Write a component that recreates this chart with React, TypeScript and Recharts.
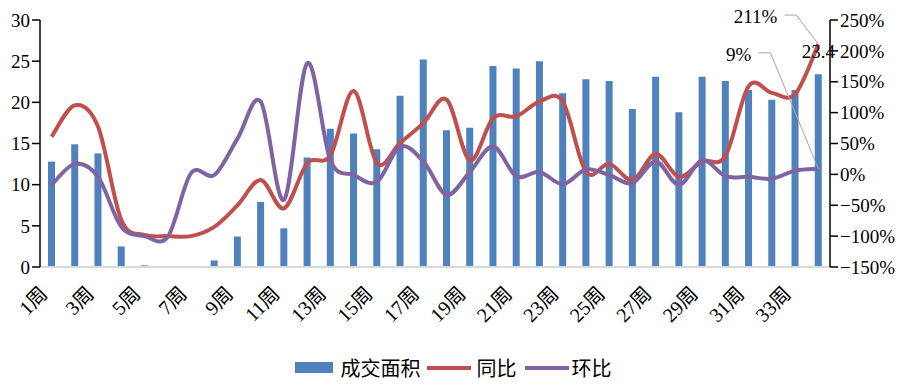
import { ComposedChart, Bar, Line, XAxis, YAxis, Legend, LabelList } from 'recharts';

const weeks = Array.from({ length: 34 }, (_, i) => `${i + 1}周`);

// 成交面积 (left axis)
const area = [
  12.8, 14.9, 13.8, 2.5, 0.2, 0, 0, 0.8, 3.7, 7.9,
  4.7, 13.3, 16.8, 16.2, 14.3, 20.8, 25.2, 16.6, 16.9, 24.4,
  24.1, 25.0, 21.1, 22.8, 22.6, 19.2, 23.1, 18.8, 23.1, 22.6,
  21.5, 20.3, 21.5, 23.4,
];

// 同比 (%)
const yoy = [
  61, 112, 77, -74, -98, -100, -100, -85, -50, -9,
  -55, 18, 31, 135, 18, 51, 83, 121, 23, 91,
  94, 118, 118, 4, 17, -9, 33, -4, 21, 30,
  143, 132, 130, 211,
];

// 环比 (%)
const mom = [
  -17, 17, -4, -85, -100, -101, 2, -1, 58, 118,
  -41, 180, 23, -1, -12, 45, 21, -33, 4, 45,
  -3, 4, -16, 8, -1, -14, 21, -17, 23, -3,
  -4, -7, 6, 9,
];

const leftTicks = [0, 5, 10, 15, 20, 25, 30];
const rightTicks = [-150, -100, -50, 0, 50, 100, 150, 200, 250];

const data = weeks.map((w, i) => ({ week: w, area: area[i], yoy: yoy[i], mom: mom[i] }));

const FONT = "'Liberation Serif', 'Noto Sans CJK SC', serif";
const BLUE = '#4f81bd';
const RED = '#c0504d';
const PURPLE = '#8064a2';
const LAST = weeks.length - 1;

// Excel-like smoothed line (Catmull-Rom)
function smoothCurve(context: any) {
  let pts: number[][] = [];
  return {
    areaStart() {},
    areaEnd() {},
    lineStart() {
      pts = [];
    },
    point(x: number, y: number) {
      pts.push([+x, +y]);
    },
    lineEnd() {
      if (!pts.length) return;
      context.moveTo(pts[0][0], pts[0][1]);
      for (let i = 0; i < pts.length - 1; i++) {
        const p0 = pts[i - 1] || pts[i];
        const p1 = pts[i];
        const p2 = pts[i + 1];
        const p3 = pts[i + 2] || p2;
        context.bezierCurveTo(
          p1[0] + (p2[0] - p0[0]) / 6,
          p1[1] + (p2[1] - p0[1]) / 6,
          p2[0] - (p3[0] - p1[0]) / 6,
          p2[1] - (p3[1] - p1[1]) / 6,
          p2[0],
          p2[1]
        );
      }
    },
  };
}

const XTick = ({ x, y, payload }: any) => (
  <text
    x={x - 3}
    y={y + 20}
    transform={`rotate(-45, ${x - 3}, ${y + 20})`}
    textAnchor="end"
    fontSize={20}
    fontFamily={FONT}
    fill="#000"
  >
    {payload.value}
  </text>
);

const fmtPct = (v: number) => `${v}%`.replace('-', '−');

// data label with a grey leader line, only on the last point
const callout = (dx: number, dy: number, text: string) => (props: any) => {
  const { x, y, index } = props;
  if (index !== LAST) return null;
  const lx = x + dx;
  const ly = y + dy;
  return (
    <g>
      <polyline
        points={`${lx + 7},${ly - 2} ${lx + 19},${ly - 2} ${x},${y}`}
        fill="none"
        stroke="#a6a6a6"
        strokeWidth={1}
      />
      <text x={lx} y={ly + 6} textAnchor="end" fontSize={19} fontFamily={FONT} fill="#000">
        {text}
      </text>
    </g>
  );
};

const BarTopLabel = (props: any) => {
  const { x, y, width, value, index } = props;
  const isLast = index === LAST || value === area[LAST];
  if (!isLast) return null;
  const cx = Number(x) + Number(width || 0) / 2;
  return (
    <text x={cx} y={Number(y) - 16} textAnchor="middle" fontSize={19} fontFamily={FONT} fill="#000">
      {area[LAST]}
    </text>
  );
};

const LegendContent = () => (
  <div
    style={{
      display: 'flex',
      justifyContent: 'center',
      alignItems: 'center',
      fontFamily: FONT,
      fontSize: 20,
      color: '#000',
      paddingLeft: 2,
    }}
  >
    <span style={{ width: 38, height: 11, background: BLUE, display: 'inline-block', marginRight: 8 }} />
    <span style={{ marginRight: 6 }}>成交面积</span>
    <span style={{ width: 44, height: 4, background: RED, display: 'inline-block', marginRight: 6 }} />
    <span style={{ marginRight: 8 }}>同比</span>
    <span style={{ width: 44, height: 4, background: PURPLE, display: 'inline-block', marginRight: 3 }} />
    <span>环比</span>
  </div>
);

export default function App() {
  return (
    <div style={{ width: 904, height: 388, position: 'relative' }}>
      <style>{`body{margin:0}`}</style>
      <ComposedChart width={904} height={388} data={data} margin={{ top: 20, right: 0, bottom: 0, left: 0 }}>
        <XAxis
          dataKey="week"
          interval={1}
          tickLine={false}
          axisLine={{ stroke: '#d9d9d9', strokeWidth: 2 }}
          tick={<XTick />}
          height={121}
        />
        <YAxis
          yAxisId="left"
          orientation="left"
          domain={[0, 30]}
          ticks={leftTicks}
          width={40}
          tickSize={8}
          axisLine={{ stroke: '#000', strokeWidth: 1.5 }}
          tickLine={{ stroke: '#000', strokeWidth: 1.5 }}
          tick={{ fill: '#000', fontSize: 19, fontFamily: FONT }}
          interval={0}
        />
        <YAxis
          yAxisId="right"
          orientation="right"
          domain={[-150, 250]}
          ticks={rightTicks}
          width={74}
          tickSize={8}
          axisLine={{ stroke: '#000', strokeWidth: 1.5 }}
          tickLine={{ stroke: '#000', strokeWidth: 1.5 }}
          tick={{ fill: '#000', fontSize: 19, fontFamily: FONT }}
          tickFormatter={fmtPct}
          interval={0}
        />
        <Bar
          yAxisId="left"
          dataKey="area"
          name="成交面积"
          fill={BLUE}
          barSize={7}
          isAnimationActive={false}
          label={(p: any) => <BarTopLabel {...p} />}
        />
        <Line
          yAxisId="right"
          dataKey="yoy"
          name="同比"
          type={smoothCurve as any}
          stroke={RED}
          strokeWidth={4}
          dot={false}
          isAnimationActive={false}
        >
          <LabelList dataKey="yoy" content={callout(-41, -27, '211%')} />
        </Line>
        <Line
          yAxisId="right"
          dataKey="mom"
          name="环比"
          type={smoothCurve as any}
          stroke={PURPLE}
          strokeWidth={4}
          dot={false}
          isAnimationActive={false}
        >
          <LabelList dataKey="mom" content={callout(-67, -114, '9%')} />
        </Line>
        <Legend
          layout="horizontal"
          verticalAlign="middle"
          align="center"
          content={<LegendContent />}
          wrapperStyle={{ top: 353, left: 0, width: 904 }}
        />
      </ComposedChart>
    </div>
  );
}
